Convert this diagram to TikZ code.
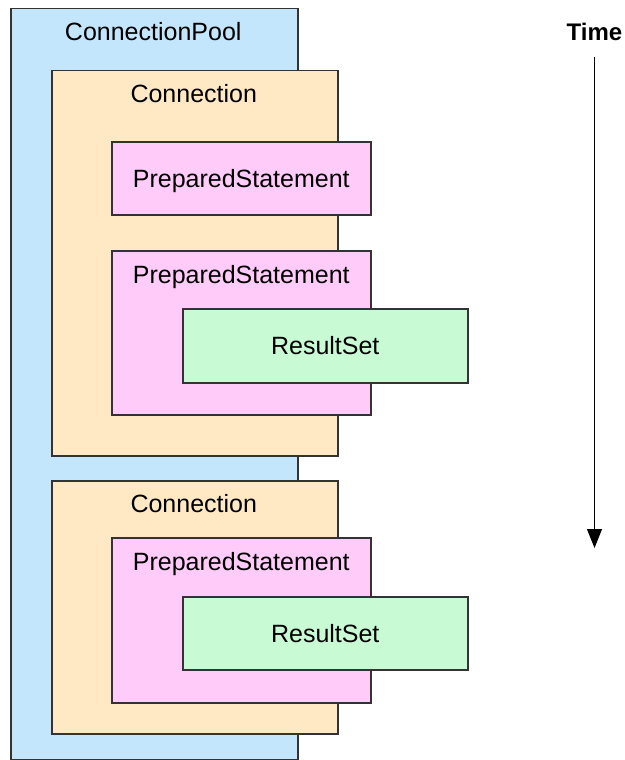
\documentclass[tikz,border=0pt]{standalone}
\usepackage{fontspec}
\setmainfont{Liberation Sans}
\usetikzlibrary{arrows.meta,positioning}

\definecolor{poolblue}{RGB}{196,230,252}
\definecolor{connsand}{RGB}{254,233,196}
\definecolor{stmtpink}{RGB}{255,204,250}
\definecolor{rsgreen}{RGB}{200,250,212}

\tikzset{
  box/.style={draw=black!80,line width=1.5pt,anchor=north west,inner sep=0pt,
              text depth=0pt},
  pool/.style={box,fill=poolblue},
  conn/.style={box,fill=connsand},
  stmt/.style={box,fill=stmtpink},
  rset/.style={box,fill=rsgreen},
  title/.style={anchor=base,inner sep=0pt},
  timeline/.style={line width=1pt,-{Triangle[width=15pt,length=19pt]}}
}

\begin{document}
\begin{tikzpicture}[x=1pt,y=-1pt,font=\fontsize{25}{30}\selectfont]
      \useasboundingbox (0,0) rectangle (624,760);

      % the pool holds both connections
      \node[pool,minimum width=287pt,minimum height=751pt] (pool) at (10,8) {};
      \node[title] (poolname) at ([xshift=-1pt,yshift=-33pt]pool.north) {ConnectionPool};

      % first connection: two statements, one with a result set
      \node[conn,minimum width=286pt,minimum height=385pt] (conna) at (51,70) {};
      \node[title] (connaname) at ([xshift=-1pt,yshift=-32pt]conna.north) {Connection};
      \node[stmt,minimum width=259pt,minimum height=73pt] (stmta) at (111,141) {PreparedStatement};
      \node[stmt,minimum width=259pt,minimum height=164pt] (stmtb) at (111,250) {};
      \node[title] (stmtbname) at ([yshift=-33pt]stmtb.north) {PreparedStatement};
      \node[rset,minimum width=285pt,minimum height=74pt] (rsa) at (182,308) {ResultSet};

      % second connection
      \node[conn,minimum width=286pt,minimum height=253pt] (connb) at (51,480) {};
      \node[title] (connbname) at ([xshift=-1pt,yshift=-32pt]connb.north) {Connection};
      \node[stmt,minimum width=259pt,minimum height=165pt] (stmtc) at (111,537) {};
      \node[title] (stmtcname) at ([yshift=-33pt]stmtc.north) {PreparedStatement};
      \node[rset,minimum width=285pt,minimum height=73pt] (rsb) at (182,596) {ResultSet};

      % time axis
      \node[font=\fontsize{24}{28}\selectfont\bfseries] (time) at (594.5,32) {Time};
      \coordinate (timeend) at (594.5,548);
      \draw[timeline,shorten <=13pt] (time.south) -- (timeend);
    \end{tikzpicture}
\end{document}
